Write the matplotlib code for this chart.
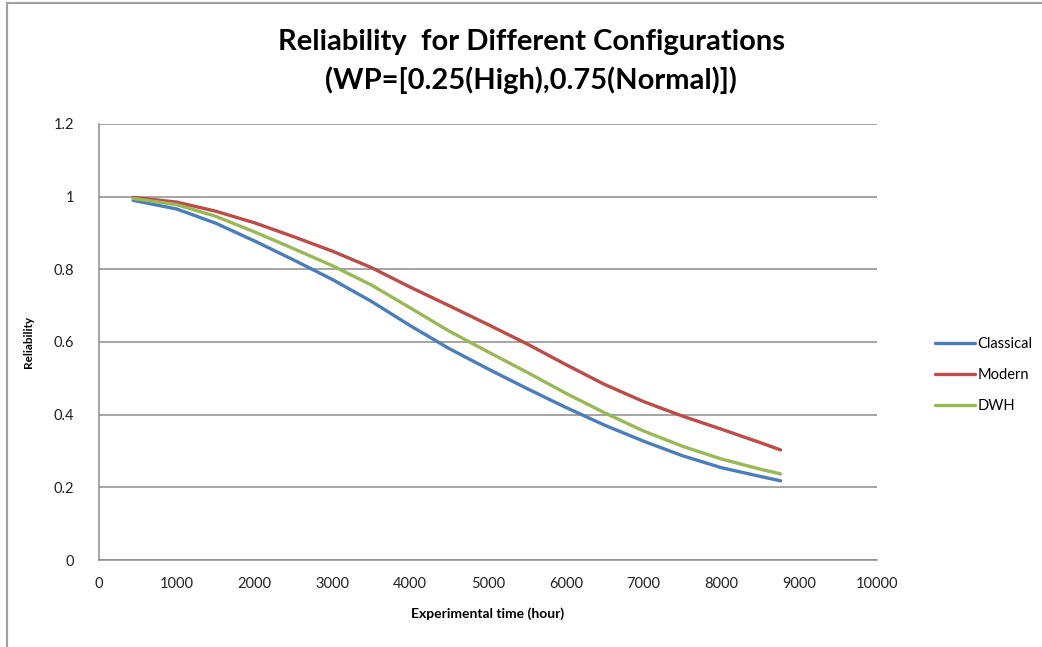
import matplotlib.pyplot as plt
from matplotlib.patches import Rectangle

# Data
time_h = [438, 1000, 1500, 2000, 2500, 3000, 3500, 4000, 4500, 5000,
          5500, 6000, 6500, 7000, 7500, 8000, 8500, 8760]
classical = [0.990, 0.966, 0.927, 0.878, 0.826, 0.772, 0.712, 0.645, 0.582, 0.526,
             0.472, 0.420, 0.371, 0.327, 0.287, 0.254, 0.230, 0.218]
modern = [0.998, 0.985, 0.960, 0.928, 0.890, 0.850, 0.805, 0.751, 0.700, 0.648,
          0.595, 0.538, 0.483, 0.436, 0.396, 0.360, 0.323, 0.303]
dwh = [0.995, 0.978, 0.946, 0.903, 0.857, 0.810, 0.757, 0.694, 0.630, 0.573,
       0.517, 0.459, 0.405, 0.355, 0.313, 0.278, 0.250, 0.237]

series = [("Classical", classical, "#4A7EBB"),
          ("Modern", modern, "#BE4B48"),
          ("DWH", dwh, "#98B954")]

plt.rcParams['font.family'] = ['Lato', 'DejaVu Sans']

W, H = 1042, 647
fig = plt.figure(figsize=(W / 100, H / 100), dpi=100)
ax = fig.add_axes([99 / W, 1 - 560 / H, (877 - 99) / W, (560 - 124) / H])

for name, vals, col in series:
    ax.plot(time_h, vals, color=col, lw=2.4, label=name,
            solid_capstyle='round', solid_joinstyle='round')

ax.set_xlim(0, 10000)
ax.set_ylim(0, 1.2)
ax.set_xticks(range(0, 10001, 1000))
ax.set_yticks([0, 0.2, 0.4, 0.6, 0.8, 1, 1.2])
ax.set_yticklabels(["0", "0.2", "0.4", "0.6", "0.8", "1", "1.2"])
ax.yaxis.grid(True, color="#8c8c8c", lw=1.1)
ax.set_axisbelow(True)
for s in ["top", "right"]:
    ax.spines[s].set_visible(False)
for s in ["left", "bottom"]:
    ax.spines[s].set_color("#8c8c8c")
    ax.spines[s].set_linewidth(1.1)
ax.tick_params(length=0, labelsize=10.5, colors="#222222")
ax.tick_params(axis='y', pad=18)
ax.tick_params(axis='x', pad=12)

ax.set_xlabel("Experimental time (hour)", fontsize=10, fontweight="bold", labelpad=12)
ax.set_ylabel("Reliability", fontsize=8.5, fontweight="bold", labelpad=14)

fig.text(531 / W, 1 - 42 / H, "Reliability  for Different Configurations",
         ha="center", va="center", fontsize=21, fontweight="bold")
fig.text(531 / W, 1 - 80 / H, "(WP=[0.25(High),0.75(Normal)])",
         ha="center", va="center", fontsize=21, fontweight="bold")

fig.legend(loc="center left", bbox_to_anchor=(922 / W, 1 - 375 / H), frameon=False,
           fontsize=10.5, handlelength=2.7, handletextpad=0.2, labelspacing=1.15)

# outer chart frame
fig.patches.append(Rectangle((7 / W, -0.1), 1.2, 1.1 - 3 / H, transform=fig.transFigure,
                             fill=False, edgecolor="#a0a0a0", lw=1.5))

fig.savefig("out.png", dpi=100)
